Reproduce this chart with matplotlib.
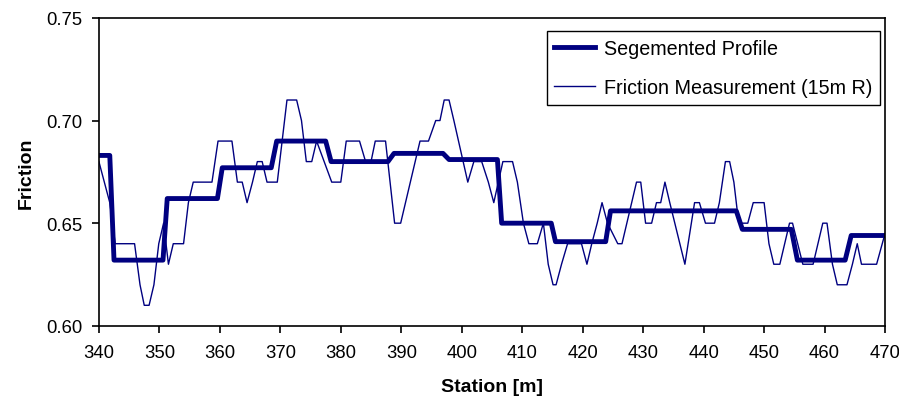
import matplotlib
matplotlib.use('Agg')
import matplotlib.pyplot as plt

station = [340.0, 341.8, 342.7, 345.9, 346.8, 347.5, 348.3, 349.1, 349.9, 350.7,
           351.5, 352.3, 354.0, 354.8, 355.6, 358.7, 359.7, 362.0, 362.9, 363.7,
           364.5, 365.4, 366.2, 367.0, 367.8, 369.5, 371.1, 372.7, 373.5, 374.3,
           375.2, 376.0, 378.5, 380.0, 380.9, 383.1, 384.1, 385.0, 385.7, 387.4,
           388.9, 389.9, 393.1, 394.5, 395.7, 396.4, 397.1, 397.9, 398.7, 401.0,
           402.0, 403.3, 404.4, 405.3, 406.8, 408.4, 409.2, 410.2, 411.1, 412.5,
           413.5, 414.3, 415.1, 415.6, 416.5, 417.5, 419.8, 420.7, 421.5, 422.4,
           423.2, 424.1, 425.8, 426.5, 427.3, 428.1, 428.9, 429.6, 430.4, 431.4,
           432.2, 432.9, 433.6, 434.4, 436.9, 438.5, 439.3, 440.3, 441.8, 442.6,
           443.6, 444.3, 445.0, 445.8, 447.3, 448.2, 450.0, 450.8, 451.6, 452.6,
           453.4, 454.2, 454.7, 456.4, 458.1, 458.9, 459.7, 460.4, 461.3, 462.1,
           463.7, 464.6, 465.4, 466.1, 468.6, 470.0]
friction = [0.68, 0.66, 0.64, 0.64, 0.62, 0.61, 0.61, 0.62, 0.64, 0.65,
            0.63, 0.64, 0.64, 0.66, 0.67, 0.67, 0.69, 0.69, 0.67, 0.67,
            0.66, 0.67, 0.68, 0.68, 0.67, 0.67, 0.71, 0.71, 0.70, 0.68,
            0.68, 0.69, 0.67, 0.67, 0.69, 0.69, 0.68, 0.68, 0.69, 0.69,
            0.65, 0.65, 0.69, 0.69, 0.70, 0.70, 0.71, 0.71, 0.70, 0.67,
            0.68, 0.68, 0.67, 0.66, 0.68, 0.68, 0.67, 0.65, 0.64, 0.64,
            0.65, 0.63, 0.62, 0.62, 0.63, 0.64, 0.64, 0.63, 0.64, 0.65,
            0.66, 0.65, 0.64, 0.64, 0.65, 0.66, 0.67, 0.67, 0.65, 0.65,
            0.66, 0.66, 0.67, 0.66, 0.63, 0.66, 0.66, 0.65, 0.65, 0.66,
            0.68, 0.68, 0.67, 0.65, 0.65, 0.66, 0.66, 0.64, 0.63, 0.63,
            0.64, 0.65, 0.65, 0.63, 0.63, 0.64, 0.65, 0.65, 0.63, 0.62,
            0.62, 0.63, 0.64, 0.63, 0.63, 0.645]

# segmented profile
seg_station = [340.0, 341.8, 342.5, 350.6, 351.3, 359.6, 360.4, 368.5, 369.4,
               377.5, 378.4, 387.8, 388.8, 396.9, 397.9, 405.9, 406.6, 414.8,
               415.5, 423.8, 424.6, 445.4, 446.4, 454.5, 455.5, 463.4, 464.4,
               470.0]
seg_friction = [0.683, 0.683, 0.632, 0.632, 0.662, 0.662, 0.677, 0.677, 0.690,
                0.690, 0.680, 0.680, 0.684, 0.684, 0.681, 0.681, 0.650, 0.650,
                0.641, 0.641, 0.656, 0.656, 0.647, 0.647, 0.632, 0.632, 0.644,
                0.644]

x_ticks = list(range(340, 471, 10))
y_ticks = [0.60, 0.65, 0.70, 0.75]

NAVY = '#000080'

plt.rcParams['font.family'] = ['Liberation Sans', 'DejaVu Sans']

fig = plt.figure(figsize=(8.99, 4.02), dpi=100)
ax = fig.add_axes([0.110, 0.187, 0.8745, 0.766])

ax.plot(seg_station, seg_friction, color=NAVY, linewidth=3.5,
        label='Segemented Profile')
ax.plot(station, friction, color=NAVY, linewidth=1.0,
        label='Friction Measurement (15m R)')

ax.set_xlim(340, 470)
ax.set_ylim(0.60, 0.75)
ax.set_xticks(x_ticks)
ax.set_yticks(y_ticks)
ax.set_yticklabels(['%.2f' % v for v in y_ticks])
ax.tick_params(direction='out', length=5, width=1.2, labelsize=13.3)
ax.tick_params(axis='y', pad=7)
ax.tick_params(axis='x', pad=8)

for s in ax.spines.values():
    s.set_linewidth(1.2)

ax.set_xlabel('Station [m]', fontsize=14, fontweight='bold', labelpad=12)
ax.set_ylabel('Friction', fontsize=14, fontweight='bold', labelpad=8)

leg = ax.legend(loc='upper right', bbox_to_anchor=(880 / 899, 1 - 32 / 402),
                bbox_transform=fig.transFigure, borderaxespad=0,
                fontsize=14.2, frameon=True, fancybox=False,
                edgecolor='black', framealpha=1, handlelength=2.05,
                handletextpad=0.45, borderpad=0.4, labelspacing=1.0)
leg.get_frame().set_linewidth(1.0)

fig.savefig('out.png', dpi=100)
